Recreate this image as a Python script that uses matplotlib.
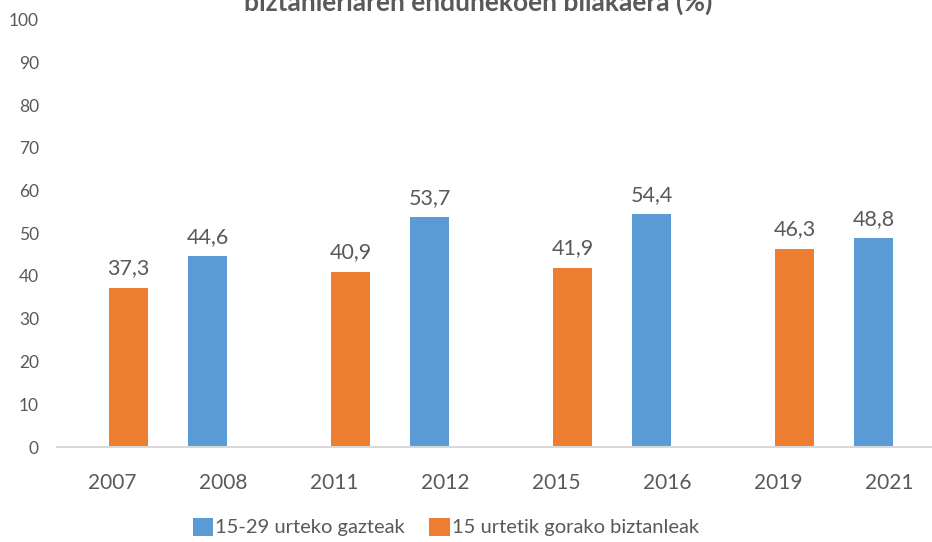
import matplotlib.pyplot as plt
from matplotlib.patches import Patch
import numpy as np

plt.rcParams['font.family'] = ['Lato', 'DejaVu Sans']

years = ["2007", "2008", "2011", "2012", "2015", "2016", "2019", "2021"]
total_15plus = [37.3, 40.9, 41.9, 46.3]   # 2007, 2011, 2015, 2019
youth_15_29 = [44.6, 53.7, 54.4, 48.8]    # 2008, 2012, 2016, 2021
series_names = ["15-29 urteko gazteak", "15 urtetik gorako biztanleak"]
title = "biztanleriaren enduhekoen bilakaera (%)"

blue = "#5B9BD5"
orange = "#ED7D31"
grey = "#595959"

W, H = 932, 542
fig = plt.figure(figsize=(W / 100, H / 100), dpi=100)
ax = fig.add_axes([57 / W, 1 - 447 / H, (945 - 57) / W, (447 - 19.5) / H])

groups = np.arange(len(total_15plus))
off = 0.178
bw = 0.18

b1 = ax.bar(groups - off, total_15plus, width=bw, color=orange)
b2 = ax.bar(groups + off, youth_15_29, width=bw, color=blue)

for bars, vals in [(b1, total_15plus), (b2, youth_15_29)]:
    for rect, v in zip(bars, vals):
        ax.annotate(f"{v:.1f}".replace(".", ","),
                    (rect.get_x() + rect.get_width() / 2, rect.get_height()),
                    xytext=(0, 7), textcoords="offset points",
                    ha="center", va="bottom", fontsize=15.5, color=grey)

tick_pos = np.ravel([[g - 0.25, g + 0.25] for g in groups])
ax.set_xticks(tick_pos)
ax.set_xticklabels(years)
ax.set_xlim(-0.5, 3.5)
ax.set_ylim(0, 100)
ax.set_yticks(range(0, 101, 10))

ax.tick_params(axis="x", length=0, pad=19, labelsize=15, labelcolor=grey)
ax.tick_params(axis="y", length=0, pad=13, labelsize=12.5, labelcolor=grey)

for s in ["top", "right", "left"]:
    ax.spines[s].set_visible(False)
ax.spines["bottom"].set_color("#D9D9D9")
ax.spines["bottom"].set_linewidth(1.5)

# title is partly cut off at the top edge in the original
fig.text(478 / W, 1 - 11 / H, title, ha="center", va="baseline",
         fontsize=19, fontweight="bold", color=grey)

handles = [Patch(facecolor=blue, label=series_names[0]),
           Patch(facecolor=orange, label=series_names[1])]
fig.legend(handles=handles, loc="center", bbox_to_anchor=(446 / W, 1 - 527 / H),
           ncol=2, frameon=False, fontsize=14.5, labelcolor=grey,
           handlelength=1.0, handleheight=1.0, handletextpad=0.1,
           columnspacing=1.2, borderpad=0)

fig.savefig("out.png", dpi=100)
